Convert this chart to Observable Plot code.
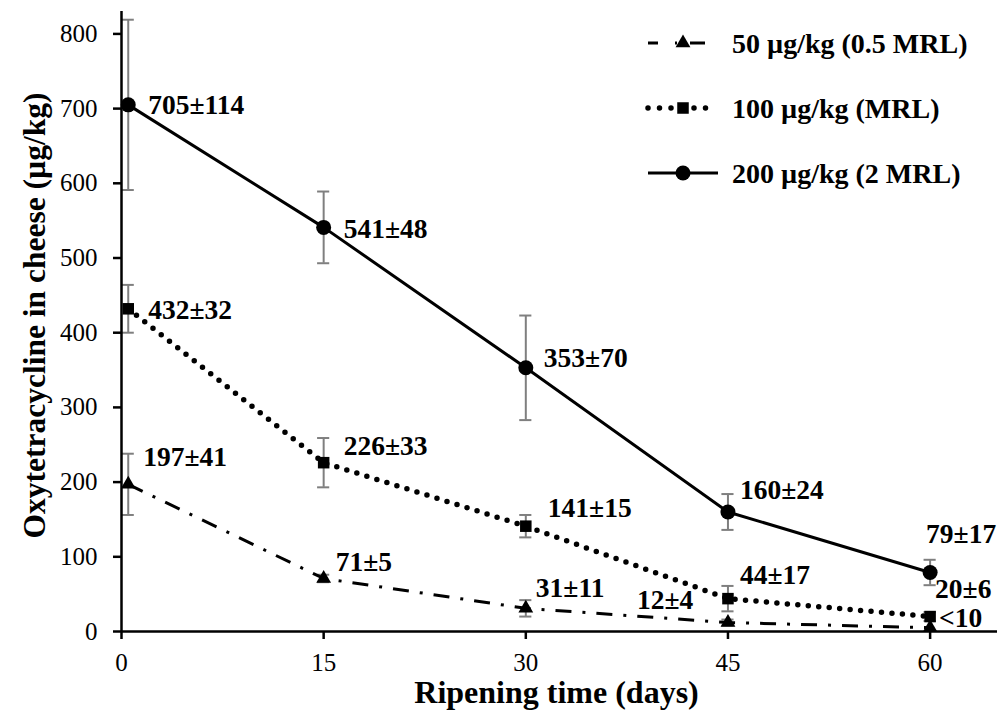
<!DOCTYPE html>
<html><head><meta charset="utf-8">
<script src="https://cdn.jsdelivr.net/npm/d3@7"></script>
<script src="https://cdn.jsdelivr.net/npm/@observablehq/plot@0.6"></script>
<style>
html,body{margin:0;padding:0;background:#fff;}
#wrap{position:relative;width:998px;height:718px;overflow:hidden;}
#wrap svg{position:absolute;left:0;top:0;}
</style></head><body><div id="wrap"></div>
<script>
// ---- data ----
const days = [0.5, 15, 30, 45, 60];
const xTicks = [0, 15, 30, 45, 60];
const yTicks = [0, 100, 200, 300, 400, 500, 600, 700, 800];
const seriesNames = ["50 µg/kg (0.5 MRL)", "100 µg/kg (MRL)", "200 µg/kg (2 MRL)"];
const mean50  = [197, 71, 31, 12, 5];
const sd50    = [41, 5, 11, 4, 0];
const text50  = ["197±41", "71±5", "31±11", "12±4", "<10"];
const mean100 = [432, 226, 141, 44, 20];
const sd100   = [32, 33, 15, 17, 6];
const text100 = ["432±32", "226±33", "141±15", "44±17", "20±6"];
const mean200 = [705, 541, 353, 160, 79];
const sd200   = [114, 48, 70, 24, 17];
const text200 = ["705±114", "541±48", "353±70", "160±24", "79±17"];
const xTitle = "Ripening time (days)";
const yTitle = "Oxytetracycline in cheese (µg/kg)";

// ---- layout (label offsets in px, not data) ----
const off50  = [[15,-27],[12,-16],[10,-20],[-91,-22],[9,-10]];
const off100 = [[20,1],[20,-16],[22,-18],[12,-23],[5,-27]];
const off200 = [[20,0],[20,2],[18,-10],[12,-22],[-4,-38]];

const FONT = "'Liberation Serif','Times New Roman',serif";
const ERR = "#7f7f7f";
const capHalf = 0.45;

function build(name, means, sds, texts, offs) {
  return days.map((d, i) => ({series: name, day: d, mean: means[i], sd: sds[i], text: texts[i], dx: offs[i][0], dy: offs[i][1]}));
}
const s50 = build(seriesNames[0], mean50, sd50, text50, off50);
const s100 = build(seriesNames[1], mean100, sd100, text100, off100);
const s200 = build(seriesNames[2], mean200, sd200, text200, off200);
const all = [...s50, ...s100, ...s200];
const withErr = all.filter(d => d.sd > 0);

const styles = [
  {rows: s50, dash: "16 11 3 11", width: 3, cap: "butt", symbol: "triangle", r: 5.5, legDash: "10 17 2 13 15", legX2: 705},
  {rows: s100, dash: "0 10.5", width: 5.5, cap: "round", symbol: "square", r: 6.5, legDash: "0 11.5", legX2: 717},
  {rows: s200, dash: null, width: 3, cap: "butt", symbol: "circle", r: 7.5, legDash: null, legX2: 718}
];

const marks = [];
// error bars
marks.push(Plot.ruleX(withErr, {x: "day", y1: d => d.mean - d.sd, y2: d => d.mean + d.sd, stroke: ERR, strokeWidth: 2}));
marks.push(Plot.ruleY(withErr, {y: d => d.mean - d.sd, x1: d => d.day - capHalf, x2: d => d.day + capHalf, stroke: ERR, strokeWidth: 2}));
marks.push(Plot.ruleY(withErr, {y: d => d.mean + d.sd, x1: d => d.day - capHalf, x2: d => d.day + capHalf, stroke: ERR, strokeWidth: 2}));
// lines and markers
for (const s of styles) {
  marks.push(Plot.line(s.rows, {x: "day", y: "mean", stroke: "#000", strokeWidth: s.width, strokeDasharray: s.dash, strokeLinecap: s.cap}));
}
for (const s of styles) {
  marks.push(Plot.dot(s.rows, {x: "day", y: "mean", symbol: () => s.symbol, r: s.r, fill: "#000", stroke: "none"}));
}
// axes
marks.push(Plot.axisY(yTicks, {tickSize: 8, tickPadding: 16, strokeWidth: 2.5, fontSize: 25, fontFamily: FONT, label: null}));
marks.push(Plot.axisX(xTicks, {tickSize: 8, tickPadding: 14, strokeWidth: 2.5, fontSize: 25, fontFamily: FONT, label: null}));
marks.push(Plot.ruleX([0], {stroke: "#000", strokeWidth: 2.5}));
marks.push(Plot.ruleY([0], {stroke: "#000", strokeWidth: 2.5}));
// value labels
for (const d of all) {
  marks.push(Plot.text([d], {x: "day", y: "mean", text: "text", textAnchor: "start", lineAnchor: "middle", dx: d.dx, dy: d.dy, fontSize: 27.5, fontWeight: "bold", fontFamily: FONT, fill: "#000"}));
}
// axis titles
marks.push(Plot.text([xTitle], {frameAnchor: "bottom", textAnchor: "middle", dx: -3, dy: 61, lineAnchor: "middle", fontSize: 32, fontWeight: "bold", fontFamily: FONT, fill: "#000"}));
marks.push(Plot.text([yTitle], {frameAnchor: "left", textAnchor: "middle", rotate: -90, dx: -87, dy: -6, lineAnchor: "middle", fontSize: 31.5, fontWeight: "bold", fontFamily: FONT, fill: "#000"}));

const chart = Plot.plot({
  width: 998, height: 718,
  marginLeft: 121, marginRight: 1, marginTop: 11, marginBottom: 87,
  x: {domain: [0, 65], axis: null},
  y: {domain: [0, 830], axis: null},
  style: {fontFamily: FONT, fontSize: "25px", color: "#000", background: "#fff", overflow: "visible"},
  marks
});
document.getElementById("wrap").appendChild(chart);

// ---- legend overlay (top right) ----
const leg = d3.select("#wrap").append("svg").attr("width", 998).attr("height", 718).style("pointer-events", "none");
const legY = [43, 108, 173];
styles.forEach((s, i) => {
  const y = legY[i];
  const g = leg.append("g");
  g.append("line").attr("x1", 648).attr("x2", s.legX2).attr("y1", y).attr("y2", y)
    .attr("stroke", "#000").attr("stroke-width", s.width)
    .attr("stroke-dasharray", s.legDash)
    .attr("stroke-linecap", s.cap);
  const sym = {triangle: d3.symbolTriangle, square: d3.symbolSquare, circle: d3.symbolCircle}[s.symbol];
  g.append("path").attr("d", d3.symbol(sym, Math.PI * s.r * s.r)()).attr("transform", `translate(683,${y})`).attr("fill", "#000");
  g.append("text").attr("x", 732).attr("y", y).attr("dy", "0.35em")
    .attr("font-family", FONT).attr("font-size", 28).attr("font-weight", "bold").text(seriesNames[i]);
});
</script></body></html>
